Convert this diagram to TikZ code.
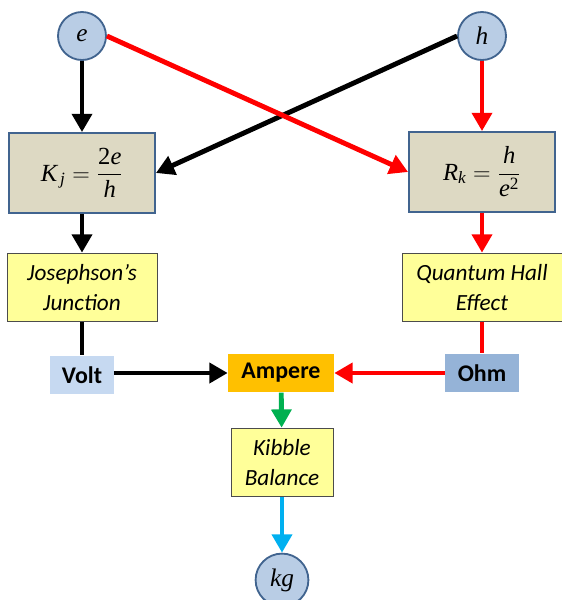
\documentclass[tikz,border=0pt]{standalone}
\usepackage{amsmath}
\usepackage{fontspec}
\setmainfont{Carlito}
\newfontfamily\tmsfont{Liberation Serif}
\usepackage{tikz}
\usetikzlibrary{positioning,arrows.meta}
\definecolor{constfill}{HTML}{B9CDE5}
\definecolor{constline}{HTML}{41648F}
\definecolor{formfill}{HTML}{DDD9C3}
\definecolor{effectfill}{HTML}{FFFF99}
\definecolor{voltfill}{HTML}{C6D9F1}
\definecolor{ampfill}{HTML}{FFC000}
\definecolor{ohmfill}{HTML}{95B3D7}
\definecolor{kibgreen}{HTML}{00B050}
\definecolor{kgcyan}{HTML}{00B0F0}
\newcommand{\tmsit}[1]{\text{\tmsfont\itshape #1}}
\tikzset{
  flow/.style={-{Triangle[length=13pt,width=14pt]}, line width=3.5pt, draw=black},
  every node/.style={anchor=center}
}

\begin{document}
\begin{tikzpicture}[
  x=0.025cm, y=-0.025cm,
  constcirc/.style={circle, draw=constline, line width=1.3pt, fill=constfill, minimum size=1.2cm, inner sep=0pt, font=\fontsize{18}{21}\selectfont\tmsfont\itshape},
  formbox/.style={draw=constline, line width=1.3pt, fill=formfill, minimum width=3.65cm, minimum height=2.0cm, inner sep=0pt, font=\fontsize{17.5}{21}\selectfont},
  effbox/.style={draw=black!70, line width=0.6pt, fill=effectfill, minimum height=1.72cm, inner sep=0pt, align=center, font=\fontsize{16.5}{21}\selectfont\itshape},
  unitbox/.style={minimum height=0.97cm, inner sep=0pt, font=\fontsize{17}{20}\selectfont\bfseries},
  plain/.style={line width=3.5pt}
]
\useasboundingbox (0,0) rectangle (561,600);

% constants and formulas
\node[constcirc] (e) at (82,36)  {e};
\node[constcirc] (h) at (482,36) {h};
\node[formbox] (kj) at (82,173) {$\displaystyle \tmsit{K}_{\,\tmsit{j}}=\frac{\text{\tmsfont 2}\tmsit{e}}{\tmsit{h}}$};
\node[formbox] (rk) at (482,172) {$\displaystyle \tmsit{R}_{\tmsit{k}}=\frac{\tmsit{h}}{\tmsit{e}^{\text{\tmsfont 2}}}$};

% effects
\node[effbox, minimum width=3.75cm] (jos) at (82,287.5)  {Josephson’s\\Junction};
\node[effbox, minimum width=4.0cm]  (qhe) at (482,287.5) {Quantum Hall\\Effect};

% units
\node[unitbox, fill=voltfill, minimum width=1.58cm] (volt) at (82,375) {Volt};
\node[unitbox, fill=ampfill,  minimum width=2.65cm] (amp)  at (281,373)  {Ampere};
\node[unitbox, fill=ohmfill,  minimum width=1.83cm] (ohm)  at (482,373) {Ohm};

% kibble balance and kg
\node[effbox, minimum width=2.55cm] (kib) at (282,462.5) {Kibble\\Balance};
\node[constcirc, minimum size=1.32cm] (kg) at (282,580) {kg};

% arrows from the constants
\draw[flow] (e) -- (kj);
\draw[flow] (h.west) -- (kj.east);
\draw[flow, draw=red] (e.east) -- (rk.west);
\draw[flow, draw=red] (h) -- (rk);
\draw[flow] (kj) -- (jos);
\draw[flow, draw=red] (rk) -- (qhe);

% effects to units
\draw[plain] (jos) -- (volt);
\draw[plain, draw=red] (qhe) -- (ohm);
\draw[flow] (volt.east |- amp) -- (amp);
\draw[flow, draw=red] (ohm) -- (amp);
\draw[flow, draw=kibgreen] (amp) -- (kib);
\draw[flow, draw=kgcyan] (kib) -- (kg);

\end{tikzpicture}
\end{document}
